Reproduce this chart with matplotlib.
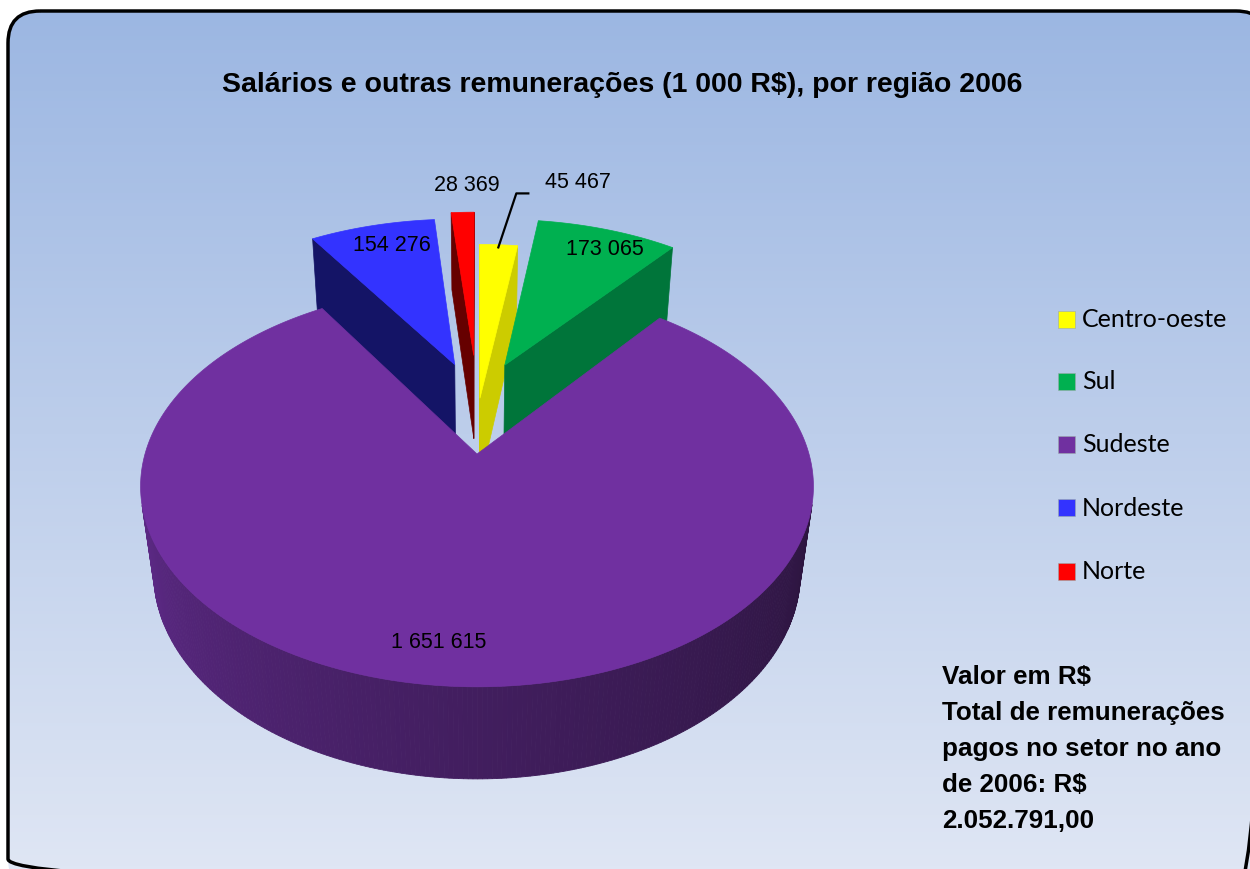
import numpy as np
import matplotlib.pyplot as plt
from matplotlib.patches import Polygon, FancyBboxPatch
from matplotlib.colors import to_rgb

# dados
regioes = ["Centro-oeste", "Sul", "Sudeste", "Nordeste", "Norte"]
valores = [45467, 173065, 1651615, 154276, 28369]
rotulos = ["45 467", "173 065", "1 651 615", "154 276", "28 369"]
cores = ["#FFFF00", "#00B050", "#7030A0", "#3333FF", "#FF0000"]
cores_lado = ["#CCCC00", "#00753A", "#5E2A88", "#141466", "#660000"]
explodir = [0.3, 0.5, 0.0, 0.5, 0.55]

titulo = "Salários e outras remunerações (1 000 R$), por região 2006"
nota = "Valor em R$\nTotal de remunerações\npagos no setor no ano\nde 2006: R$\n2.052.791,00"

# projeção 3D simples com perspectiva
CX, CY, K = 477, 455, 332
ELEV = np.radians(36)
DIST = 5.0
ALT = 0.335


def proj(X, Y, Z):
    v = Y * np.sin(ELEV) + Z * np.cos(ELEV)
    w = Y * np.cos(ELEV) - Z * np.sin(ELEV)
    s = DIST / (DIST + w)
    return CX + K * s * X, CY - K * s * v


cam = np.array([0.0, -DIST * np.cos(ELEV), DIST * np.sin(ELEV)])


def visivel(p, n):
    return np.dot(cam - p, n) > 0


def mistura(c1, c2, t):
    a, b = np.array(to_rgb(c1)), np.array(to_rgb(c2))
    return tuple(a + (b - a) * t)


fig = plt.figure(figsize=(12.5, 8.7), dpi=100)
ax = fig.add_axes([0, 0, 1, 1])
ax.set_xlim(0, 1250)
ax.set_ylim(870, 0)
ax.axis("off")

# fundo com gradiente e moldura arredondada
caixa = FancyBboxPatch((8, 12), 1260, 880, boxstyle="round,pad=0,rounding_size=32",
                       facecolor="none", edgecolor="black", lw=2.5, zorder=5)
grad = np.linspace(0, 1, 256).reshape(-1, 1)
topo, base = np.array([155, 182, 226]) / 255, np.array([223, 230, 244]) / 255
img = topo + (base - topo) * grad[..., None]
im = ax.imshow(img, extent=[0, 1250, 870, 0], aspect="auto", zorder=0)
ax.add_patch(caixa)
im.set_clip_path(caixa)

total = sum(valores)
angulos = [v / total * 360 for v in valores]

# ângulos (sentido horário a partir do topo)
fatias = []
a0 = 90.0
for i, ang in enumerate(angulos):
    a1 = a0 - ang
    meio = ((a0 + a1) / 2) % 360
    if explodir[i]:
        dire = np.radians(90 + 0.45 * (meio - 90))
    else:
        dire = np.radians(meio)
    off = np.array([np.cos(dire), np.sin(dire)]) * explodir[i]
    fatias.append((a1, a0, meio, off))
    a0 = a1

# ordem de desenho: fatias do fundo primeiro, Sudeste por último
ordem = [4, 0, 1, 3, 2]

for zi, i in enumerate(ordem):
    a1, a0, meio, off = fatias[i]
    z = 3 + zi * 0.1
    ox, oy = off
    th = np.radians(np.linspace(a1, a0, 400))
    # parede externa
    for j in range(len(th) - 1):
        t = (th[j] + th[j + 1]) / 2
        p = np.array([ox + np.cos(t), oy + np.sin(t), 0])
        n = np.array([np.cos(t), np.sin(t), 0])
        if not visivel(p, n):
            continue
        xs, ys = [], []
        for tt, zz in [(th[j], 0), (th[j + 1], 0), (th[j + 1], -ALT), (th[j], -ALT)]:
            x, y = proj(ox + np.cos(tt), oy + np.sin(tt), zz)
            xs.append(x)
            ys.append(y)
        deg = np.degrees(t) % 360
        f = np.clip((deg - 194) / (346 - 194), 0, 1)
        cor = mistura("#5E2A88", "#2D1540", f ** 0.8)
        ax.add_patch(Polygon(np.c_[xs, ys], closed=True, facecolor=cor,
                             edgecolor=cor, lw=0.6, zorder=z))
    # paredes radiais
    for ang, sinal in [(a0, 1), (a1, -1)]:
        r = np.radians(ang)
        n = sinal * np.array([-np.sin(r), np.cos(r), 0])
        p = np.array([ox + 0.5 * np.cos(r), oy + 0.5 * np.sin(r), -ALT / 2])
        if not visivel(p, n):
            continue
        pts = [proj(ox, oy, 0), proj(ox + np.cos(r), oy + np.sin(r), 0),
               proj(ox + np.cos(r), oy + np.sin(r), -ALT), proj(ox, oy, -ALT)]
        ax.add_patch(Polygon(pts, closed=True, facecolor=cores_lado[i],
                             edgecolor=cores_lado[i], lw=0.5, zorder=z))
    # face superior
    xs, ys = proj(ox + np.cos(th), oy + np.sin(th), 0)
    cx0, cy0 = proj(ox, oy, 0)
    topo_pts = np.r_[[[cx0, cy0]], np.c_[xs, ys]]
    ax.add_patch(Polygon(topo_pts, closed=True, facecolor=cores[i],
                         edgecolor=cores[i], lw=0.5, zorder=z + 0.05))

# rótulos de dados
fonte = ["Liberation Sans", "DejaVu Sans"]
ajuste = {1: (16, -6), 2: (0, 10), 3: (5, -6)}
for i in [1, 2, 3]:
    a1, a0, meio, off = fatias[i]
    r = np.radians(meio + (-4 if i == 2 else 0))
    x, y = proj(off[0] + 0.8 * np.cos(r), off[1] + 0.8 * np.sin(r), 0)
    dx, dy = ajuste[i]
    ax.text(x + dx, y + dy, rotulos[i], ha="center", va="center",
            fontsize=15.5, family=fonte, zorder=10)

# Norte: acima da fatia
a1, a0, meio, off = fatias[4]
r = np.radians(meio)
x, y = proj(off[0] + 1.0 * np.cos(r), off[1] + 1.0 * np.sin(r), 0)
ax.text(x + 4, y - 28, rotulos[4], ha="center", va="center", fontsize=15.5, family=fonte, zorder=10)

# Centro-oeste: com linha de chamada
a1, a0, meio, off = fatias[0]
r = np.radians(meio)
x, y = proj(off[0] + 0.98 * np.cos(r), off[1] + 0.98 * np.sin(r), 0)
ax.plot([x, x + 18, x + 30], [y, y - 54, y - 54], color="black", lw=1.6, zorder=10)
ax.text(x + 47, y - 66, rotulos[0], ha="left", va="center", fontsize=15.5, family=fonte, zorder=10)

# título
ax.text(622, 85, titulo, ha="center", va="center", fontsize=20.5, fontweight="bold",
        family=fonte, zorder=10)

# legenda
ys_leg = [320, 382, 445, 508, 572]
for nome, cor, yl in zip(regioes, cores, ys_leg):
    ax.add_patch(plt.Rectangle((1058, yl - 8), 17, 17, facecolor=cor,
                               edgecolor="#9aa", lw=0.4, zorder=10))
    ax.text(1082, yl, nome, ha="left", va="center", fontsize=18,
            family=["Lato", "DejaVu Sans"], zorder=10)

# nota
ax.text(942, 665, nota, ha="left", va="top", fontsize=18.7, fontweight="bold",
        family=fonte, linespacing=1.63, zorder=10)

fig.savefig("out.png", dpi=100)
